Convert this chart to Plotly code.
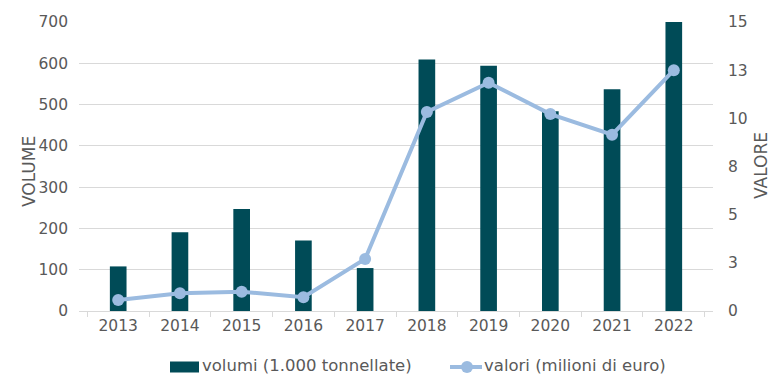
import plotly.graph_objects as go

years = ["2013", "2014", "2015", "2016", "2017", "2018", "2019", "2020", "2021", "2022"]
volumi = [108, 191, 247, 171, 104, 609, 594, 484, 537, 700]
valori = [0.57, 0.92, 1.0, 0.71, 2.7, 10.33, 11.85, 10.22, 9.15, 12.5]
right_tickvals = [0, 2.5, 5, 7.5, 10, 12.5, 15]
right_ticktext = ["0", "3", "5", "8", "10", "13", "15"]
left_tickvals = [0, 100, 200, 300, 400, 500, 600, 700]
name_volumi = "volumi (1.000 tonnellate)"
name_valori = "valori (milioni di euro)"

FONT = "DejaVu Sans"
FS = 15.5
FS_LEG = 16.5
FS_TITLE = 17
GRAY = "#595959"
GRID = "#d9d9d9"
BAR = "#004B57"
LINE = "#9BBBE0"

W, H = 781, 376
L, R, T, B = 79, 68, 22, 65
pw = W - L - R
ph = H - T - B


def px(x):
    return (x - L) / pw


def py(y):
    return (H - B - y) / ph


fig = go.Figure()
fig.add_trace(go.Bar(
    x=years, y=volumi, name=name_volumi,
    marker=dict(color=BAR, line=dict(width=0)), width=0.27, yaxis="y",
    showlegend=False,
))
fig.add_trace(go.Scatter(
    x=years, y=valori, name=name_valori, mode="lines+markers",
    line=dict(color=LINE, width=4), marker=dict(color=LINE, size=12),
    yaxis="y2", showlegend=False,
))

LEG_Y = 367
shapes = [
    # legend: bar swatch
    dict(type="rect", xref="paper", yref="paper", x0=px(170), x1=px(199),
         y0=py(LEG_Y + 5.5), y1=py(LEG_Y - 5.5), fillcolor=BAR, line=dict(width=0), layer="above"),
    # legend: line swatch
    dict(type="line", xref="paper", yref="paper", x0=px(450), x1=px(482),
         y0=py(LEG_Y), y1=py(LEG_Y), line=dict(color=LINE, width=4), layer="above"),
    dict(type="circle", xref="paper", yref="paper", x0=px(461), x1=px(473),
         y0=py(LEG_Y + 6), y1=py(LEG_Y - 6), fillcolor=LINE, line=dict(width=0), layer="above"),
]

annotations = [
    dict(text="VOLUME", x=px(17), y=py(172), xref="paper", yref="paper", showarrow=False,
         textangle=-90, font=dict(size=FS_TITLE, color=GRAY)),
    dict(text="VALORE", x=px(773), y=py(166), xref="paper", yref="paper", showarrow=False,
         textangle=-90, font=dict(size=FS_TITLE, color=GRAY)),
    dict(text=name_volumi, x=px(200), y=py(365.5), xref="paper", yref="paper", showarrow=False,
         xanchor="left", yanchor="middle", font=dict(size=FS_LEG, color=GRAY)),
    dict(text=name_valori, x=px(482), y=py(365.5), xref="paper", yref="paper", showarrow=False,
         xanchor="left", yanchor="middle", font=dict(size=FS_LEG, color=GRAY)),
]

fig.update_layout(
    width=W, height=H,
    margin=dict(l=L, r=R, t=T, b=B, autoexpand=False),
    plot_bgcolor="white", paper_bgcolor="white",
    font=dict(family=FONT, size=FS, color=GRAY),
    showlegend=False,
    xaxis=dict(type="category", showgrid=False, showline=True, linecolor=GRID, linewidth=1,
               ticks="outside", tickson="boundaries", ticklen=5, tickcolor=GRID,
               tickfont=dict(size=FS, color=GRAY), automargin=False),
    yaxis=dict(range=[0, 700], tickvals=left_tickvals, showgrid=True, gridcolor=GRID,
               gridwidth=1, zeroline=False, showline=False, tickfont=dict(size=FS, color=GRAY),
               ticks="", ticklabelstandoff=10, automargin=False),
    yaxis2=dict(range=[0, 15], overlaying="y", side="right", tickvals=right_tickvals,
                ticktext=right_ticktext, showgrid=False, zeroline=False, showline=False,
                tickfont=dict(size=FS, color=GRAY), ticklabelstandoff=14, automargin=False),
    shapes=shapes,
    annotations=annotations,
)

fig.write_html("out.html", config={"displayModeBar": False},
               post_script="document.body.style.margin='0';")
